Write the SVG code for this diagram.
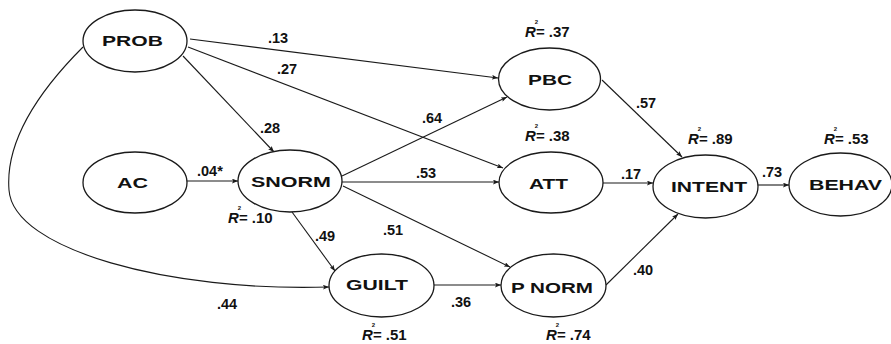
<svg xmlns="http://www.w3.org/2000/svg" width="891" height="344" viewBox="0 0 891 344">
  <style>
    .node ellipse { fill: #ffffff; stroke: #1a1a1a; stroke-width: 1.3; }
    .node text { font-family: "Liberation Sans", Arial, sans-serif; font-weight: bold; font-size: 15.5px; fill: #111; text-anchor: middle; }
    .edge { fill: none; stroke: #1a1a1a; stroke-width: 1.1; marker-end: url(#arrow); }
    .coef { font-family: "Liberation Sans", Arial, sans-serif; font-weight: bold; font-size: 14.5px; fill: #111; }
    .rsq { font-family: "Liberation Sans", Arial, sans-serif; font-weight: bold; font-size: 15px; fill: #111; }
    .rsq .r { font-style: italic; }
    .rsq .sup { font-size: 6px; }
  </style>
  <defs>
    <marker id="arrow" viewBox="0 0 10 8" refX="10" refY="4" markerWidth="6" markerHeight="5" markerUnits="userSpaceOnUse" orient="auto">
      <path d="M0,0 L10,4 L0,8 L2,4 Z" fill="#1a1a1a"/>
    </marker>
  </defs>
  <rect width="891" height="344" fill="#ffffff"/>

  <!-- paths between constructs -->
  <g id="connectors">
    <line class="edge" x1="190" y1="39" x2="498" y2="78"/>
    <line class="edge" x1="188" y1="47" x2="503" y2="168"/>
    <line class="edge" x1="183" y1="56" x2="274" y2="152"/>
    <path class="edge" d="M83,47 C40,90 5,140 9,190 C13,250 170,292 329,287"/>
    <line class="edge" x1="187" y1="181" x2="238" y2="181"/>
    <line class="edge" x1="342" y1="176" x2="507" y2="97"/>
    <line class="edge" x1="342" y1="182" x2="499" y2="182"/>
    <line class="edge" x1="343" y1="186" x2="510" y2="267"/>
    <line class="edge" x1="292" y1="212" x2="335" y2="271"/>
    <line class="edge" x1="434" y1="285" x2="501" y2="285"/>
    <line class="edge" x1="602" y1="80" x2="682" y2="157"/>
    <line class="edge" x1="603" y1="183" x2="653" y2="183"/>
    <line class="edge" x1="606" y1="285" x2="678" y2="214"/>
    <line class="edge" x1="758" y1="185" x2="789" y2="185"/>
  </g>

  <!-- path coefficients -->
  <g id="coefficients">
    <text class="coef" x="268" y="43">.13</text>
    <text class="coef" x="277" y="74">.27</text>
    <text class="coef" x="260" y="133">.28</text>
    <text class="coef" x="197" y="176">.04*</text>
    <text class="coef" x="422" y="123">.64</text>
    <text class="coef" x="416" y="178">.53</text>
    <text class="coef" x="636" y="108">.57</text>
    <text class="coef" x="621" y="179">.17</text>
    <text class="coef" x="762" y="177">.73</text>
    <text class="coef" x="315" y="241">.49</text>
    <text class="coef" x="383" y="235">.51</text>
    <text class="coef" x="451" y="307">.36</text>
    <text class="coef" x="633" y="275">.40</text>
    <text class="coef" x="217" y="309">.44</text>
  </g>

  <!-- constructs -->
  <g id="PROB" class="node">
    <ellipse cx="135" cy="41" rx="52" ry="31"/>
    <text x="132.5" y="46" textLength="61" lengthAdjust="spacingAndGlyphs">PROB</text>
  </g>
  <g id="AC" class="node">
    <ellipse cx="135" cy="182.5" rx="52" ry="30.5"/>
    <text x="132.5" y="188" textLength="31" lengthAdjust="spacingAndGlyphs">AC</text>
  </g>
  <g id="SNORM" class="node">
    <ellipse cx="290" cy="181" rx="52" ry="31"/>
    <text x="291" y="187" textLength="80" lengthAdjust="spacingAndGlyphs">SNORM</text>
  </g>
  <g id="PBC" class="node">
    <ellipse cx="549.5" cy="79" rx="51" ry="31"/>
    <text x="550" y="85" textLength="44" lengthAdjust="spacingAndGlyphs">PBC</text>
  </g>
  <g id="ATT" class="node">
    <ellipse cx="551" cy="182.5" rx="52" ry="30.5"/>
    <text x="548.5" y="189" textLength="39" lengthAdjust="spacingAndGlyphs">ATT</text>
  </g>
  <g id="INTENT" class="node">
    <ellipse cx="705.5" cy="186.5" rx="52.5" ry="31.5"/>
    <text x="709" y="192" textLength="76" lengthAdjust="spacingAndGlyphs">INTENT</text>
  </g>
  <g id="BEHAV" class="node">
    <ellipse cx="840.5" cy="184.5" rx="51.5" ry="31.5"/>
    <text x="845.5" y="190" textLength="73" lengthAdjust="spacingAndGlyphs">BEHAV</text>
  </g>
  <g id="GUILT" class="node">
    <ellipse cx="381.5" cy="285.5" rx="52.5" ry="31.5"/>
    <text x="377" y="290" textLength="62" lengthAdjust="spacingAndGlyphs">GUILT</text>
  </g>
  <g id="PNORM" class="node">
    <ellipse cx="553.5" cy="285.5" rx="52.5" ry="31.5"/>
    <text x="552" y="293" textLength="82" lengthAdjust="spacingAndGlyphs">P NORM</text>
  </g>

  <!-- explained variance: italic R with a small 2 set above it -->
  <g id="r-squared">
    <text class="rsq" x="525" y="37"><tspan class="r">R</tspan><tspan class="sup" dx="-1" dy="-13">2</tspan><tspan dx="-2.3" dy="13">= .37</tspan></text>
    <text class="rsq" x="525" y="141"><tspan class="r">R</tspan><tspan class="sup" dx="-1" dy="-13">2</tspan><tspan dx="-2.3" dy="13">= .38</tspan></text>
    <text class="rsq" x="688" y="144"><tspan class="r">R</tspan><tspan class="sup" dx="-1" dy="-13">2</tspan><tspan dx="-2.3" dy="13">= .89</tspan></text>
    <text class="rsq" x="824" y="144"><tspan class="r">R</tspan><tspan class="sup" dx="-1" dy="-13">2</tspan><tspan dx="-2.3" dy="13">= .53</tspan></text>
    <text class="rsq" x="228" y="223"><tspan class="r">R</tspan><tspan class="sup" dx="-1" dy="-13">2</tspan><tspan dx="-2.3" dy="13">= .10</tspan></text>
    <text class="rsq" x="362" y="340"><tspan class="r">R</tspan><tspan class="sup" dx="-1" dy="-13">2</tspan><tspan dx="-2.3" dy="13">= .51</tspan></text>
    <text class="rsq" x="546" y="340"><tspan class="r">R</tspan><tspan class="sup" dx="-1" dy="-13">2</tspan><tspan dx="-2.3" dy="13">= .74</tspan></text>
  </g>
</svg>
